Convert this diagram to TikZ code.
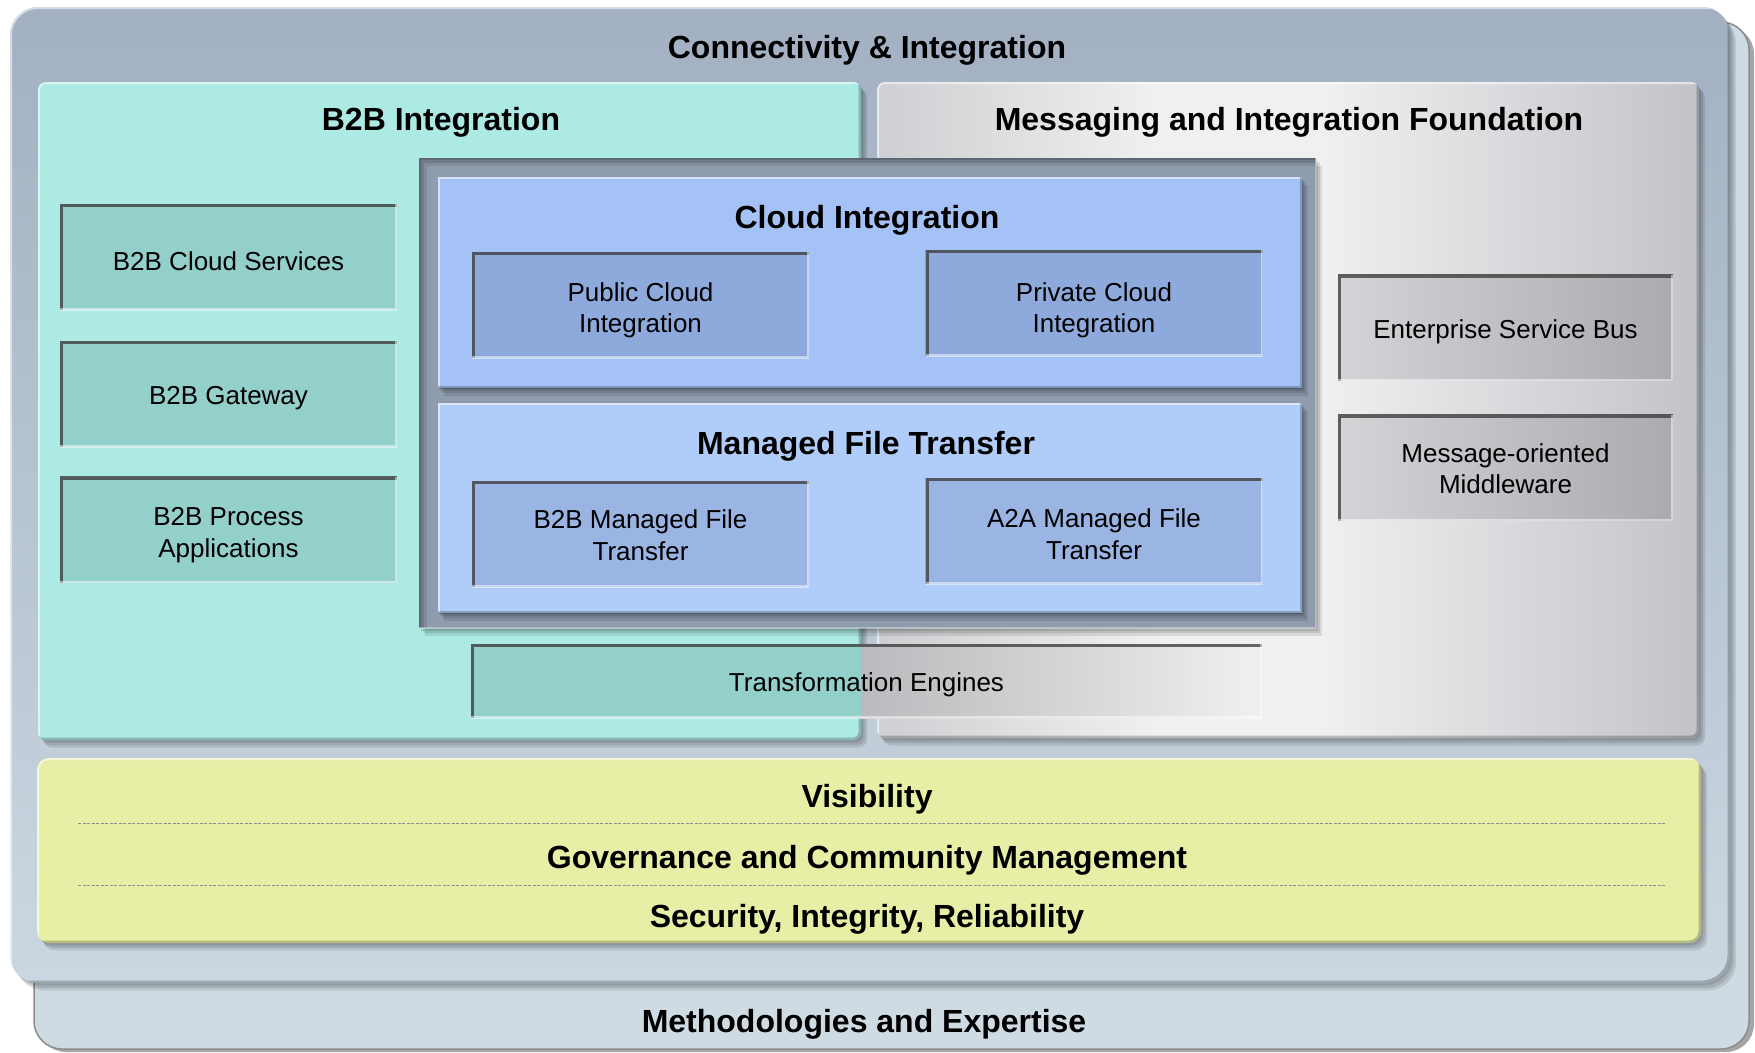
\documentclass[tikz,border=0pt]{standalone}
\usepackage{fontspec}
\setmainfont{Liberation Sans}
\definecolor{backc}{HTML}{CFDBE3}
\definecolor{outerT}{HTML}{A2B0C2}
\definecolor{outerB}{HTML}{CBD7E0}
\definecolor{tealP}{HTML}{ADEAE4}
\definecolor{tealB}{HTML}{93D0CA}
\definecolor{frameC}{HTML}{8F9CAE}
\definecolor{cloudP}{HTML}{A4C2F5}
\definecolor{mftP}{HTML}{B0CDFA}
\definecolor{cloudB}{HTML}{8EAADC}
\definecolor{mftB}{HTML}{9AB4E3}
\definecolor{yellowP}{HTML}{E7EFA6}
\definecolor{gA}{HTML}{CFCFD3}
\definecolor{gB}{HTML}{F0F0F0}
\definecolor{gC}{HTML}{C2C3C9}
\definecolor{esbL}{HTML}{D4D4D7}
\definecolor{esbR}{HTML}{AAABB0}
\pgfdeclarehorizontalshading{msgshade}{100bp}{color(0bp)=(gA); color(25bp)=(gA); color(42bp)=(gB); color(52bp)=(gB); color(75bp)=(gC); color(100bp)=(gC)}
\tikzset{
 sh/.style={preaction={fill=black,opacity=0.10,transform canvas={xshift=2pt,yshift=-2.5pt}},
            preaction={fill=black,opacity=0.10,transform canvas={xshift=4pt,yshift=-5pt}},
            preaction={fill=black,opacity=0.10,transform canvas={xshift=6pt,yshift=-7.5pt}}},
 raised/.style={path picture={
   \draw[line width=4pt, white, opacity=0.55] (path picture bounding box.south west) -- (path picture bounding box.north west) -- (path picture bounding box.north east);
   \draw[line width=5pt, black, opacity=0.22] (path picture bounding box.north east) -- (path picture bounding box.south east) -- (path picture bounding box.south west);}},
 inset/.style={path picture={
   \draw[line width=6pt, black!75, opacity=0.8] (path picture bounding box.south west) -- (path picture bounding box.north west) -- (path picture bounding box.north east);
   \draw[line width=4pt, white, opacity=0.5] (path picture bounding box.north east) -- (path picture bounding box.south east) -- (path picture bounding box.south west);}},
 softinset/.style={path picture={
   \draw[line width=16pt, black, opacity=0.10] (path picture bounding box.south west) -- (path picture bounding box.north west) -- (path picture bounding box.north east);
   \draw[line width=9pt, black, opacity=0.12] (path picture bounding box.south west) -- (path picture bounding box.north west) -- (path picture bounding box.north east);
   \draw[line width=4pt, black, opacity=0.15] (path picture bounding box.south west) -- (path picture bounding box.north west) -- (path picture bounding box.north east);
   \draw[line width=3pt, white, opacity=0.35] (path picture bounding box.north east) -- (path picture bounding box.south east) -- (path picture bounding box.south west);}},
 ttl/.style={font=\bfseries\fontsize{32}{38}\selectfont, text=black, inner sep=0pt},
 box/.style={inset, minimum width=337pt, minimum height=106pt, inner sep=0pt},
 lbl/.style={align=center, font=\fontsize{26}{31.5}\selectfont, inner sep=0pt, yshift=-4pt},
 lbl2/.style={lbl, yshift=-1.5pt},
 dline/.style={black!45, line width=1pt, dash pattern=on 3pt off 1.5pt},
}
\begin{document}
\begin{tikzpicture}[x=1pt,y=-1pt]
\useasboundingbox (0,0) rectangle (1755,1052);
% back panel
\fill[black,opacity=0.35,rounded corners=28pt] (38,26) rectangle (1754,1052);
\path[fill=backc, draw=black!45, line width=1.5pt, rounded corners=28pt] (34,22) rectangle (1749,1049);
\node[ttl] (meth) at (864,1024) {Methodologies and Expertise};
% main panel
\shade[sh, top color=outerT, bottom color=outerB, rounded corners=28pt, raised] (10,7) rectangle (1730,983);
\node[ttl] (conn) at (867,50) {Connectivity \& Integration};
% teal and gray panels
\fill[sh, tealP, rounded corners=8pt, raised] (38,82) rectangle (861,740);
\shade[sh, shading=msgshade, rounded corners=8pt, raised] (877,82) rectangle (1699,738);
\node[ttl] (b2bi) at (441,122) {B2B Integration};
\node[ttl] (msg) at (1289,122) {Messaging and Integration Foundation};
% center frame
\fill[sh, frameC, softinset] (419,158) rectangle (1316,628);
\fill[sh, cloudP, raised] (438,177) rectangle (1302,388);
\fill[sh, mftP, raised] (438,403) rectangle (1302,613);
\node[ttl] (cloud) at (867,220) {Cloud Integration};
\node[ttl] (mft) at (866,446) {Managed File Transfer};
% left boxes
\node[box, fill=tealB, label={[lbl]center:B2B Cloud Services}] (bcs) at (228.5,257) {};
\node[box, fill=tealB, label={[lbl]center:B2B Gateway}] (gw) at (228.5,394) {};
\node[box, fill=tealB, label={[lbl2]center:{B2B Process\\Applications}}] (bpa) at (228.5,529.5) {};
% cloud boxes
\node[box, fill=cloudB, label={[lbl2]center:{Public Cloud\\Integration}}] (pub) at (640.5,305) {};
\node[box, fill=cloudB, label={[lbl, yshift=-3.5pt]center:{Private Cloud\\Integration}}] (priv) at (1094,303) {};
\node[box, fill=mftB, label={[lbl, yshift=3pt]center:{B2B Managed File\\Transfer}}] (bmft) at (640.5,534) {};
\node[box, fill=mftB, label={[lbl, yshift=0.7pt]center:{A2A Managed File\\Transfer}}] (amft) at (1094,531) {};
% right boxes
\node[box, left color=esbL, right color=esbR, minimum width=335pt, label={[lbl]center:Enterprise Service Bus}] (esb) at (1505.5,327.5) {};
\node[box, left color=esbL, right color=esbR, minimum width=335pt, label={[lbl, yshift=3pt]center:{Message-oriented\\Middleware}}] (mom) at (1505.5,467.5) {};
% transformation engines
\fill[tealB] (471,644) rectangle (861,718);
\shade[left color=gA!90!black, right color=gB] (861,644) rectangle (1262,718);
\node[box, minimum width=791pt, minimum height=74pt, label={[lbl]center:Transformation Engines}] (te) at (866.5,681) {};
% yellow panel
\fill[sh, yellowP, rounded corners=12pt, raised] (37,758) rectangle (1701,943);
\node[ttl] (vis) at (867,799) {Visibility};
\node[ttl] (gov) at (867,860) {Governance and Community Management};
\node[ttl] (sec) at (867,919) {Security, Integrity, Reliability};
\coordinate (d1a) at (78,823); \coordinate (d1b) at (1666,823);
\coordinate (d2a) at (78,885); \coordinate (d2b) at (1666,885);
\draw[dline] (d1a) -- (d1b);
\draw[dline] (d2a) -- (d2b);
\end{tikzpicture}
\end{document}
